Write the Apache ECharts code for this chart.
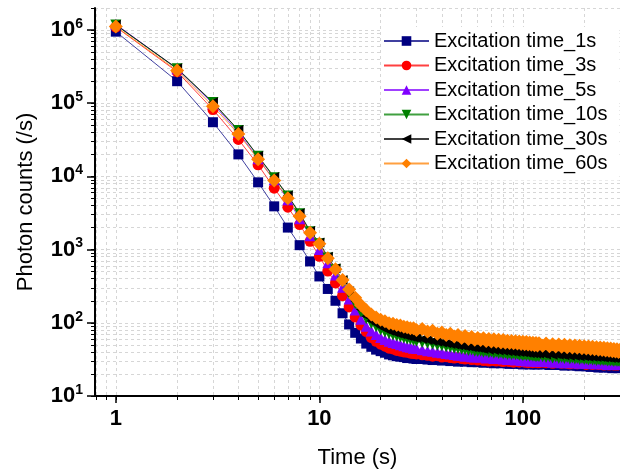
<!DOCTYPE html>
<html>
<head>
<meta charset="utf-8">
<script src="https://cdn.jsdelivr.net/npm/echarts@6/dist/echarts.min.js"></script>
<style>
  html, body { margin: 0; padding: 0; background: #fff; }
  #main { width: 620px; height: 474px; }
</style>
</head>
<body>
<div id="main"></div>
<script>
// time points (s)
var times = [1, 2, 3, 4, 5, 6, 7, 8, 9, 10, 11, 12, 13, 14, 15, 16, 17, 18, 19, 20,
  21, 22, 23, 24, 25, 26, 27, 28, 29, 30,
  32, 34, 36, 38, 40, 42, 44, 46, 48, 50, 52, 54, 56, 58, 60,
  62, 64, 66, 68, 70, 72, 74, 76, 78, 80, 82, 84, 86, 88, 90, 92, 94, 96, 98, 100,
  102, 104, 106, 108, 110, 112, 114, 116, 118, 120,
  125, 130, 135, 140, 145, 150, 155, 160, 165, 170, 175, 180, 185, 190, 195, 200, 205, 210,
  215, 220, 225, 230, 235, 240, 245, 250, 255, 260, 265, 270, 275, 280, 285, 290, 295, 300];

// photon counts for each excitation time
var exc1s = [9.5e5, 2.0e5, 5.5e4, 2.0e4, 8300, 3900, 2000, 1150, 690, 430, 290, 200, 135, 95, 73, 61, 52, 47, 43, 41,
  39, 37, 36, 35, 34.5, 34, 33, 33.5, 32.5, 32,
  32, 31.5, 31, 31.5, 30.5, 31, 30, 30.5, 29.5, 30, 29.5, 30, 29, 29.5, 29,
  29.5, 28.5, 29, 29.5, 28.5, 28, 29, 28.5, 28, 28.5, 29, 28, 27.5, 28.5, 28, 27.5, 28, 28.5, 27.5, 27,
  28, 27.5, 28, 27, 27.5, 28, 27, 27.5, 27, 27.5,
  27, 27.5, 26.5, 27, 27.5, 26.5, 27, 26, 26.5, 27, 26, 26.5, 26, 25.5, 26.5, 26, 25.5, 26,
  25, 25.5, 26, 25, 24.5, 25.5, 25, 24.5, 25, 25.5, 24.5, 25, 24, 24.5, 25, 24.5, 24, 25];
var exc3s = [1.1e6, 2.7e5, 8.2e4, 3.2e4, 14400, 6900, 3800, 2200, 1300, 810, 510, 350, 235, 165, 120, 93, 76, 63, 56, 51,
  48, 45, 44, 42, 41, 40, 39.5, 38.5, 38, 37.5,
  36.5, 36, 35, 35.5, 34, 34.5, 33.5, 33, 33.5, 32.5, 32, 32.5, 31.5, 32, 31,
  31.5, 30.5, 31, 30, 31, 30.5, 30, 31, 30, 29.5, 30.5, 30, 29.5, 30, 29, 30, 29.5, 29, 30, 29.5,
  29, 29.5, 28.5, 29.5, 29, 28.5, 29, 29.5, 28.5, 28.5,
  29, 28.5, 29, 28, 28.5, 29, 28, 28.5, 28, 27.5, 28.5, 28, 27.5, 28, 28.5, 27.5, 27, 28,
  27.5, 27, 27.5, 28, 27, 27.5, 27, 26.5, 27.5, 27, 26.5, 27, 27.5, 26.5, 27, 26.5, 27, 27];
var exc5s = [1.2e6, 2.95e5, 9.8e4, 4.0e4, 17500, 9000, 4800, 2650, 1550, 1000, 660, 450, 305, 212, 150, 112, 90, 77, 69, 63,
  59, 56, 54, 52, 50, 48.5, 47, 46.5, 45, 44.5,
  43, 41.5, 41, 39.5, 39, 38, 37.5, 37, 36, 36, 35, 35.5, 34.5, 34, 34.5,
  34, 35, 33, 34, 33.5, 32.5, 34, 32.5, 33, 32, 33, 31.5, 32.5, 31.5, 32.5, 31, 32, 31.5, 30.5, 31.5,
  31, 30, 31.5, 30.5, 30, 31, 30, 30.5, 29.5, 30.5,
  30, 29.5, 30.5, 29, 30, 29.5, 28.5, 29.5, 29, 28.5, 29.5, 28.5, 29, 28, 29, 28.5, 28, 29,
  28, 28.5, 27.5, 28.5, 28, 27.5, 28.5, 27.5, 28, 27, 28, 27.5, 27, 28, 27, 27.5, 27, 27.5];
var exc10s = [1.17e6, 2.95e5, 1.02e5, 4.25e4, 18800, 9600, 5400, 3100, 1750, 1200, 770, 530, 360, 250, 182, 140, 114, 98, 88, 80,
  75, 71, 68, 66, 64, 62, 60, 59, 57.5, 56,
  54, 52.5, 51, 49.5, 48.5, 47, 46.5, 45, 44.5, 43.5, 43, 42, 42.5, 41, 40.5,
  41, 39.5, 40.5, 39, 40, 38.5, 39.5, 38, 39, 37.5, 38.5, 37, 38.5, 36.5, 38, 36.5, 37.5, 36, 37, 35.5,
  37, 35.5, 36.5, 35, 36, 35, 35.5, 34.5, 35.5, 34.5,
  34.5, 33.5, 34.5, 33, 34, 32.5, 33.5, 32.5, 33.5, 32, 33, 32, 32.5, 31.5, 32.5, 31.5, 32, 31,
  32, 31, 31.5, 30.5, 31.5, 30.5, 31, 30.5, 31, 30, 30.5, 30, 30.5, 29.5, 30.5, 29.5, 30, 29.5];
var exc30s = [1.18e6, 3.0e5, 1.03e5, 4.3e4, 19000, 9800, 5500, 3150, 1800, 1250, 800, 555, 385, 270, 198, 152, 123, 106, 96, 88,
  82, 78, 75, 72, 70, 68, 66, 64.5, 63, 62,
  60, 58, 56.5, 55, 54, 52.5, 51.5, 50.5, 49.5, 49, 48, 47.5, 46.5, 46, 45.5,
  45, 44, 45.5, 43, 44.5, 42.5, 44, 42, 43.5, 41.5, 43, 41, 42.5, 40.5, 42, 40, 41.5, 40, 41, 39.5,
  40.5, 39, 40.5, 38.5, 40, 38.5, 39.5, 38, 39, 38,
  38, 37, 38, 36.5, 37.5, 36.5, 37, 36, 37, 35.5, 36.5, 35.5, 36, 35, 36, 35, 35.5, 34.5,
  35.5, 34.5, 35, 34, 35, 34, 34.5, 33.5, 34.5, 33.5, 34, 33, 34, 33, 33.5, 32.5, 33, 32.5];
var exc60s = [1.12e6, 2.8e5, 9.1e4, 3.8e4, 17200, 8800, 5050, 2850, 1700, 1200, 760, 540, 385, 285, 220, 175, 148, 130, 118, 110,
  105, 99, 97, 93, 92, 88, 87, 84, 84, 80,
  82, 76, 78, 71, 74, 68, 71, 65, 68, 62, 66, 60, 64, 58.5, 62,
  58, 61.5, 56.5, 60, 55.5, 59.5, 55, 58.5, 54, 58, 53.5, 57, 53, 56.5, 52.5, 56, 52, 55.5, 51.5, 55,
  51, 54.5, 50.5, 54, 50, 53.5, 49.5, 53, 49, 52.5,
  48.5, 52, 48, 51, 47.5, 50.5, 47, 50, 46.5, 49.5, 46, 49, 45.5, 48.5, 45, 48, 44.5, 47.5,
  44, 47, 43.5, 46.5, 43, 46, 42.5, 45.5, 42, 45, 41.5, 44.5, 41, 44, 40.5, 43.5, 40, 43];

var seriesNames = ['Excitation time_1s', 'Excitation time_3s', 'Excitation time_5s',
  'Excitation time_10s', 'Excitation time_30s', 'Excitation time_60s'];
var seriesValues = [exc1s, exc3s, exc5s, exc10s, exc30s, exc60s];
var seriesColors = ['#000080', '#ff0000', '#8000ff', '#008000', '#000000', '#ff8000'];
var seriesSymbols = ['rect', 'circle', 'triangle', 'triangle', 'triangle', 'diamond'];
var symbolRotates = [0, 0, 0, 180, 90, 0];
var symbolSizes = [10, 11, 11, 11, 10, 14];

// tick values
var xMajor = [1, 10, 100];
var xMinor = [0.8, 0.9, 1, 2, 3, 4, 5, 6, 7, 8, 9, 10, 20, 30, 40, 50, 60, 70, 80, 90, 100, 200, 300];
var yMajor = [10, 100, 1000, 10000, 100000, 1000000];
var yMinor = [10, 20, 30, 40, 50, 60, 70, 80, 90, 100, 200, 300, 400, 500, 600, 700, 800, 900,
  1000, 2000, 3000, 4000, 5000, 6000, 7000, 8000, 9000, 10000, 20000, 30000, 40000, 50000, 60000, 70000, 80000, 90000,
  100000, 200000, 300000, 400000, 500000, 600000, 700000, 800000, 900000, 1000000, 2000000];

var font = 'Liberation Sans, Arial, sans-serif';
var gridLine = { show: true, lineStyle: { color: '#d6d6d6', type: [3, 3], width: 1 } };

var series = seriesNames.map(function (name, k) {
  return {
    name: name,
    type: 'line',
    xAxisIndex: 0,
    yAxisIndex: 0,
    symbol: seriesSymbols[k],
    symbolRotate: symbolRotates[k],
    symbolSize: symbolSizes[k],
    showAllSymbol: true,
    itemStyle: { color: seriesColors[k], borderWidth: 0 },
    lineStyle: { color: seriesColors[k], width: 1, opacity: 0.75 },
    emphasis: { disabled: true },
    data: times.map(function (t, i) { return [t, seriesValues[k][i]]; })
  };
});

var chart = echarts.init(document.getElementById('main'));
var option = {
  animation: false,
  backgroundColor: '#fff',
  grid: { left: 95, right: 0, top: 8, bottom: 78 },
  legend: {
    data: seriesNames,
    orient: 'vertical',
    left: 381,
    top: 27,
    padding: [3, 12, 6, 2],
    backgroundColor: '#fff',
    itemWidth: 45,
    itemHeight: 12,
    itemGap: 2.5,
    textStyle: { fontFamily: font, fontSize: 20, color: '#000', lineHeight: 22 }
  },
  xAxis: [{
    type: 'log', min: 0.79, max: 300, position: 'bottom',
    name: 'Time (s)', nameLocation: 'middle', nameGap: 51,
    nameTextStyle: { fontFamily: font, fontSize: 22, color: '#000' },
    axisLine: { lineStyle: { color: '#000', width: 2 } },
    axisTick: { customValues: xMajor, length: 7, lineStyle: { color: '#000', width: 1.5 } },
    axisLabel: { customValues: xMajor, fontFamily: font, fontSize: 22, fontWeight: 'bold', color: '#000', margin: 12 },
    splitLine: { show: false }
  }, {
    type: 'log', min: 0.79, max: 300, position: 'bottom',
    axisLine: { show: false },
    axisTick: { customValues: xMinor, length: 4, lineStyle: { color: '#000', width: 1 } },
    axisLabel: { show: false },
    splitLine: gridLine
  }],
  yAxis: [{
    type: 'log', min: 10, max: 2000000, position: 'left',
    name: 'Photon counts (/s)', nameLocation: 'middle', nameGap: 58,
    nameTextStyle: { fontFamily: font, fontSize: 22, color: '#000' },
    axisLine: { lineStyle: { color: '#000', width: 2 } },
    axisTick: { customValues: yMajor, length: 8, lineStyle: { color: '#000', width: 1.5 } },
    axisLabel: {
      customValues: yMajor, margin: 12,
      formatter: function (v) {
        return '{b|10}{s|' + Math.round(Math.log10(v)) + '}';
      },
      rich: {
        b: { fontFamily: font, fontSize: 22, fontWeight: 'bold', color: '#000', lineHeight: 26 },
        s: { fontFamily: font, fontSize: 14, fontWeight: 'bold', color: '#000', verticalAlign: 'top', lineHeight: 14 }
      }
    },
    splitLine: { show: false }
  }, {
    type: 'log', min: 10, max: 2000000, position: 'left',
    axisLine: { show: false },
    axisTick: { customValues: yMinor, length: 4, lineStyle: { color: '#000', width: 1 } },
    axisLabel: { show: false },
    splitLine: gridLine
  }],
  series: series
};
chart.setOption(option);
</script>
</body>
</html>
